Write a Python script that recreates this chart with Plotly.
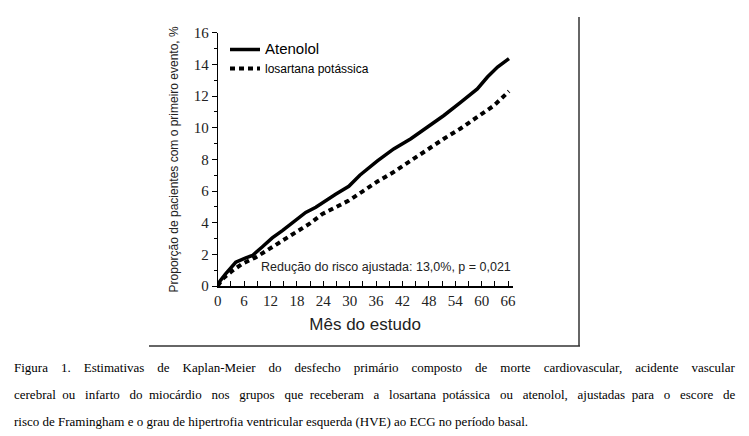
import plotly.graph_objects as go

# Estimativas de Kaplan-Meier
meses_atenolol = [0, 0.5, 1.8, 4.1, 6.4, 7.9, 10.1, 12.4, 14.7, 17, 20, 22.3, 24.5,
                  26.8, 29.8, 32.3, 36.3, 40, 43.9, 47.7, 51.4, 55.2, 59, 61.3, 63.6, 66.2]
risco_atenolol = [0, 0.3, 0.77, 1.5, 1.78, 1.93, 2.46, 3.04, 3.5, 4.03, 4.65, 4.97, 5.4,
                  5.8, 6.3, 7.0, 7.9, 8.66, 9.3, 10.03, 10.77, 11.6, 12.45, 13.2, 13.83, 14.36]

meses_losartana = [0, 1.1, 3.4, 5.6, 8.7, 11.7, 14.7, 17.8, 20.8, 23.8, 26.8, 29.8,
                   32.8, 36.3, 40, 43.9, 47.7, 51.4, 55.2, 59, 62.8, 66.2]
risco_losartana = [0, 0.45, 0.98, 1.4, 1.82, 2.34, 2.87, 3.4, 3.92, 4.55, 4.98, 5.4,
                   5.95, 6.6, 7.2, 7.92, 8.66, 9.3, 9.95, 10.65, 11.4, 12.3]

ticks_x = [0, 6, 12, 18, 24, 30, 36, 42, 48, 54, 60, 66]
ticks_y = [0, 2, 4, 6, 8, 10, 12, 14, 16]

legenda = ['Atenolol', 'losartana potássica']
nota = 'Redução do risco ajustada: 13,0%, p = 0,021'
legenda_figura = [
    'Figura 1. Estimativas de Kaplan-Meier do desfecho primário composto de morte cardiovascular, acidente vascular',
    'cerebral ou infarto do miocárdio nos grupos que receberam a losartana potássica ou atenolol, ajustadas para o escore de',
    'risco de Framingham e o grau de hipertrofia ventricular esquerda (HVE) ao ECG no período basal.',
]
# espaços extras para "justificar" as duas primeiras linhas
espacos_extras = [39, 31, 0]

W, H = 749, 436


def justificar(linha, extra):
    """Distribui espaços não separáveis entre as palavras"""
    palavras = linha.split(' ')
    gaps = len(palavras) - 1
    if extra <= 0 or gaps == 0:
        return linha
    out = palavras[0]
    for i, p in enumerate(palavras[1:]):
        n = extra * (i + 1) // gaps - extra * i // gaps
        out += ' ' + '\u00a0' * n + p
    return out


fig = go.Figure()

fig.add_trace(go.Scatter(
    x=meses_atenolol, y=risco_atenolol, mode='lines',
    name='<span style="font-size:15px">' + legenda[0] + '</span>',
    line=dict(color='black', width=3.5)
))
fig.add_trace(go.Scatter(
    x=meses_losartana, y=risco_losartana, mode='lines',
    name=legenda[1],
    line=dict(color='black', width=4, dash='5px,4px')
))

fig.add_annotation(
    x=67, y=1.18, xref='x', yref='y', xanchor='right', yanchor='middle',
    text=nota, showarrow=False,
    font=dict(family='Arial, Liberation Sans', size=12.5, color='#222')
)

# legenda da figura (texto abaixo do gráfico)
for i, linha in enumerate(legenda_figura):
    fig.add_annotation(
        x=12 / W, y=1 - (367 + i * 27) / H, xref='paper', yref='paper',
        xanchor='left', yanchor='middle', text=justificar(linha, espacos_extras[i]),
        showarrow=False,
        font=dict(family='Liberation Serif, Times New Roman', size=13, color='black')
    )

# moldura (linha inferior e lateral direita)
fig.add_shape(type='line', xref='paper', yref='paper',
              x0=149 / W, x1=580 / W, y0=1 - 346 / H, y1=1 - 346 / H,
              line=dict(color='#333', width=1.5))
fig.add_shape(type='line', xref='paper', yref='paper',
              x0=579 / W, x1=579 / W, y0=1 - 17 / H, y1=1 - 346 / H,
              line=dict(color='#333', width=1.5))

fig.update_layout(
    width=W, height=H,
    margin=dict(l=0, r=0, t=0, b=0),
    paper_bgcolor='white', plot_bgcolor='white',
    showlegend=True,
    legend=dict(
        x=225 / W, y=1 - 35 / H, xanchor='left', yanchor='top',
        bgcolor='rgba(0,0,0,0)', tracegroupgap=0,
        font=dict(family='Arial, Liberation Sans', size=12, color='black'),
        itemwidth=30
    ),
    xaxis=dict(
        domain=[217.7 / W, 512.5 / W], range=[0, 67], automargin=False,
        tickvals=ticks_x, ticks='inside', ticklen=5, tickwidth=1, tickcolor='black',
        minor=dict(dtick=3, tick0=0, ticks='inside', ticklen=5, tickcolor='black'),
        showline=True, linecolor='black', linewidth=2,
        showgrid=False, zeroline=False,
        tickfont=dict(family='Liberation Serif, Times New Roman', size=15, color='#222'),
        title=dict(text='Mês do estudo', standoff=10,
                   font=dict(family='Arial, Liberation Sans', size=17, color='#222'))
    ),
    yaxis=dict(
        domain=[1 - 286 / H, 1 - 32.7 / H], range=[0, 16], automargin=False,
        tickvals=ticks_y, ticks='outside', ticklen=5, tickwidth=1, tickcolor='black',
        minor=dict(dtick=1, tick0=0, ticks='outside', ticklen=3, tickcolor='black'),
        showline=True, linecolor='black', linewidth=1,
        showgrid=False, zeroline=False,
        tickfont=dict(family='Liberation Serif, Times New Roman', size=15, color='#222'),
        title=dict(text='Proporção de pacientes com o primeiro evento, %', standoff=12,
                   font=dict(family='Arial, Liberation Sans', size=12, color='#222'))
    ),
)

# sem a margem padrão da página, a figura fica alinhada ao canto da janela
fig.write_html('out.html', config={'displayModeBar': False},
               post_script="document.body.style.margin = '0';")
